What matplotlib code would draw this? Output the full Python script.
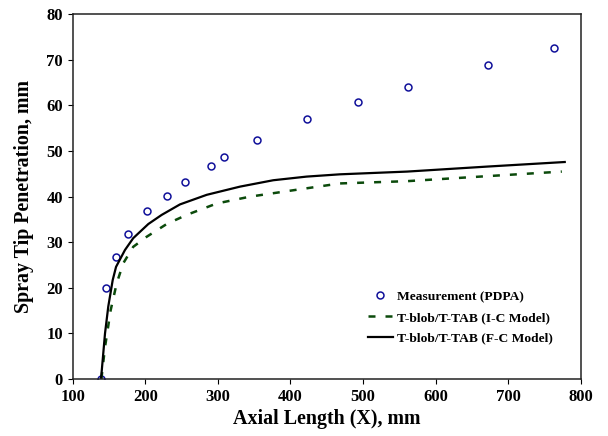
import matplotlib
matplotlib.use('Agg')
import matplotlib.pyplot as plt

plt.rcParams['font.family'] = 'Liberation Serif'
plt.rcParams['font.weight'] = 'bold'

# measurement (PDPA)
meas_x = [139.0, 145.9, 159.7, 175.8, 201.9, 229.5, 254.3, 290.0, 308.4, 353.4, 422.7, 492.5, 561.4, 672.4, 763.0]
meas_y = [0.0, 19.9, 26.7, 31.7, 36.8, 40.1, 43.3, 46.8, 48.8, 52.5, 57.1, 60.7, 64.0, 68.9, 72.5]

# T-blob/T-TAB (I-C Model)
ic_x = [139.5, 144.5, 152.3, 160.6, 169.7, 183.4, 201.9, 229.5, 257.0, 298.4, 344.2, 399.4, 468.2, 560.9, 671.4, 774.0]
ic_y = [0.0, 7.0, 15.1, 21.0, 25.4, 29.0, 31.2, 34.0, 36.0, 38.5, 40.0, 41.3, 42.9, 43.4, 44.5, 45.5]

# T-blob/T-TAB (F-C Model)
fc_x = [139.0, 144.5, 149.0, 155.1, 159.7, 172.0, 183.4, 204.2, 222.6, 247.8, 284.6, 330.5, 376.3, 422.3, 468.2, 560.8, 671.4, 778.0]
fc_y = [0.0, 10.0, 15.9, 21.7, 24.6, 28.3, 30.9, 34.0, 36.0, 38.3, 40.4, 42.2, 43.6, 44.4, 44.9, 45.5, 46.6, 47.6]

fig = plt.figure(figsize=(6.08, 4.36), dpi=100)
ax = fig.add_axes([0.1196, 0.1307, 0.8355, 0.8365])

ax.plot(meas_x, meas_y, 'o', mfc='none', mec='#10109a', mew=1.1, ms=5, label='Measurement (PDPA)')
ax.plot(ic_x, ic_y, color='#0b4a0b', lw=1.8, ls=(0, (2.8, 4.0)), label='T-blob/T-TAB (I-C Model)')
ax.plot(fc_x, fc_y, color='black', lw=1.6, label='T-blob/T-TAB (F-C Model)')

ax.set_xlim(100, 800)
ax.set_ylim(0, 80)
ax.set_xticks(range(100, 801, 100))
ax.set_yticks(range(0, 81, 10))
ax.tick_params(direction='out', length=3.6, labelsize=12, top=False, right=False)
for lab in ax.get_xticklabels() + ax.get_yticklabels():
    lab.set_fontweight('bold')
for s in ax.spines.values():
    s.set_color('#222222')
    s.set_linewidth(1.1)

ax.set_xlabel('Axial Length (X), mm', fontsize=14.4, fontweight='bold', labelpad=3)
ax.set_ylabel('Spray Tip Penetration, mm', fontsize=14.4, fontweight='bold', labelpad=8.6)

ax.legend(loc='upper left', bbox_to_anchor=(0.581, 0.242), frameon=False,
          borderaxespad=0, borderpad=0,
          prop={'size': 9.7, 'weight': 'bold'}, handlelength=1.85, handletextpad=0.3,
          labelspacing=0.61)

fig.savefig('out.png', dpi=100)
